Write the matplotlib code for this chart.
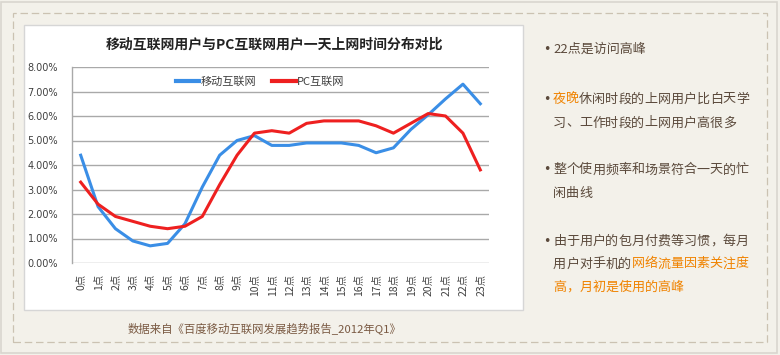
import matplotlib
matplotlib.use('Agg')
import matplotlib.pyplot as plt
from matplotlib.patches import Rectangle
from matplotlib.lines import Line2D
from matplotlib.ticker import FuncFormatter

plt.rcParams['font.family'] = ['Noto Sans CJK SC', 'DejaVu Sans']

# ---- data (share of users online, %) ----
hours = [str(h) + '点' for h in range(24)]
mobile = [4.4, 2.3, 1.4, 0.9, 0.7, 0.8, 1.6, 3.1, 4.4, 5.0, 5.2, 4.8,
          4.8, 4.9, 4.9, 4.9, 4.8, 4.5, 4.7, 5.45, 6.05, 6.7, 7.3, 6.5]
pc = [3.3, 2.4, 1.9, 1.7, 1.5, 1.4, 1.5, 1.9, 3.2, 4.4, 5.3, 5.4,
      5.3, 5.7, 5.8, 5.8, 5.8, 5.6, 5.3, 5.7, 6.1, 6.0, 5.3, 3.8]
series_names = ['移动互联网', 'PC互联网']
title = '移动互联网用户与PC互联网用户一天上网时间分布对比'
source = '数据来自《百度移动互联网发展趋势报告_2012年Q1》'
notes = [
    [[('22点是访问高峰', 'b')]],
    [[('夜晚', 'o'), ('休闲时段的上网用户比白天学', 'b')],
     [('习、工作时段的上网用户高很多', 'b')]],
    [[('整个使用频率和场景符合一天的忙', 'b')],
     [('闲曲线', 'b')]],
    [[('由于用户的包月付费等习惯，每月', 'b')],
     [('用户对手机的', 'b'), ('网络流量因素关注度', 'o')],
     [('高，月初是使用的高峰', 'o')]],
]

W, H = 780, 355
BG = '#f3f1ea'
BROWN = '#5b4a3c'
ORANGE = '#f08300'
BLUE = '#3a8ee6'
RED = '#ee2020'


def fx(x):
    return x / W


def fy(y):
    return 1 - y / H


fig = plt.figure(figsize=(7.8, 3.55), dpi=100, facecolor=BG)

# outer frame, dashed border, white chart panel
fig.patches.append(Rectangle((fx(1), fy(353)), fx(776), 351 / H, transform=fig.transFigure,
                             facecolor='none', edgecolor='#d9d6cf', lw=1.2, zorder=0))
fig.patches.append(Rectangle((fx(13), fy(342)), fx(767 - 13), (342 - 13) / H,
                             transform=fig.transFigure, facecolor='none',
                             edgecolor='#cbc2b2', lw=0.9, ls=(0, (6, 3)), zorder=0))
fig.patches.append(Rectangle((fx(24), fy(310)), fx(523 - 24), (310 - 25) / H,
                             transform=fig.transFigure, facecolor='white',
                             edgecolor='#d6d6d6', lw=1.0, zorder=0))

ax = fig.add_axes([fx(72), fy(263), fx(489 - 72), (263 - 67) / H])
ax.set_zorder(2)
ax.set_facecolor('none')
x = list(range(len(hours)))
ax.plot(x, mobile, color=BLUE, lw=2.2, solid_joinstyle='round', zorder=3)
ax.plot(x, pc, color=RED, lw=2.2, solid_joinstyle='round', zorder=4)

ax.set_xlim(-0.5, 23.5)
ax.set_ylim(0, 8)
ax.set_yticks(range(0, 9))
ax.yaxis.set_major_formatter(FuncFormatter(lambda v, p: '%.2f%%' % v))
ax.set_xticks(x)
ax.set_xticklabels(hours, rotation=90, fontsize=7.5, color='#404040')
ax.tick_params(axis='x', length=0, pad=8)
ax.tick_params(axis='y', length=0, pad=10, labelsize=7, labelcolor='#404040')
for lab in ax.get_yticklabels():
    lab.set_family('DejaVu Sans')
ax.grid(axis='y', color='#a9a9a9', lw=1.0)
ax.set_axisbelow(True)
for s in ['top', 'right', 'bottom']:
    ax.spines[s].set_visible(False)
ax.spines['left'].set_color('#a9a9a9')
ax.spines['left'].set_linewidth(1.0)

handles = [Line2D([], [], color=BLUE, lw=3), Line2D([], [], color=RED, lw=3)]
leg = fig.legend(handles, series_names, loc='center', bbox_to_anchor=(fx(260), fy(82)),
                 ncol=2, frameon=False, fontsize=8, handlelength=2.1,
                 handletextpad=0.1, columnspacing=1.5)
leg.set_zorder(5)
for t in leg.get_texts():
    t.set_color('#404040')

fig.text(fx(274), fy(44), title, ha='center', va='center', fontsize=10,
         fontweight='bold', color='#222222')

# right-hand notes: placed char by char on a full-width grid
fs = 9.4
em = fs * 100 / 72
line_y = [[49], [99, 123], [170, 193], [241, 264, 287]]
for block, ys in zip(notes, line_y):
    fig.text(fx(547), fy(ys[0]), '•', ha='center', va='center', fontsize=9,
             color=BROWN, family='DejaVu Sans')
    for segs, y in zip(block, ys):
        xpos = 553
        for txt, c in segs:
            col = ORANGE if c == 'o' else BROWN
            if txt[0].isdigit():
                t = fig.text(fx(xpos), fy(y), txt, ha='left', va='center',
                             fontsize=fs, color=col)
                continue
            for ch in txt:
                fig.text(fx(xpos + em / 2), fy(y), ch, ha='center', va='center',
                         fontsize=fs, color=col)
                xpos += em

fig.text(fx(128), fy(328), source, ha='left', va='center', fontsize=8.2, color='#7a5a43')

fig.savefig('out.png', dpi=100, facecolor=BG)
